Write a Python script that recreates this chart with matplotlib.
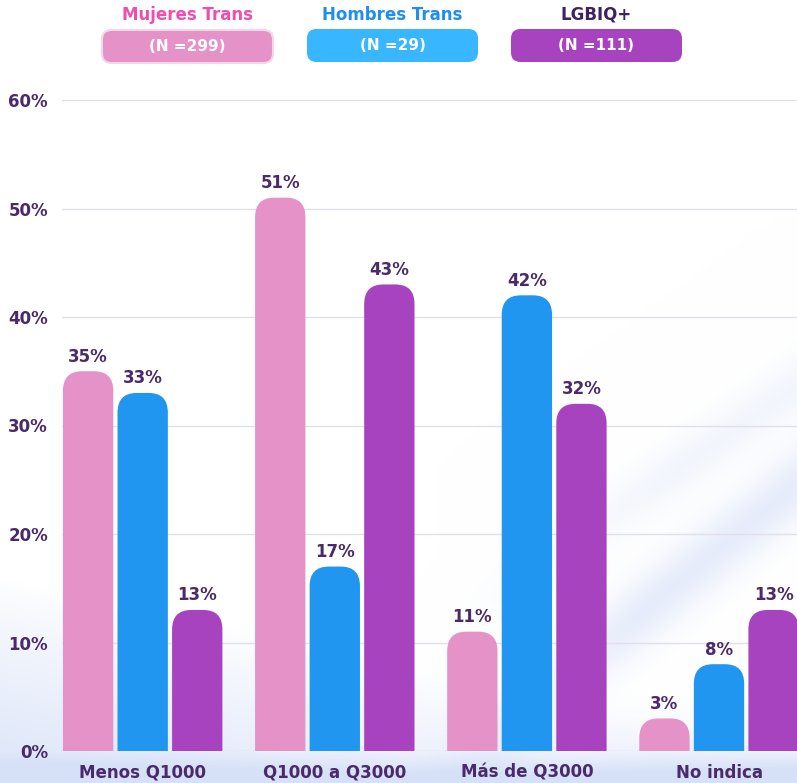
import matplotlib.pyplot as plt
import numpy as np
from matplotlib.patches import FancyBboxPatch

# data
categories = ["Menos Q1000", "Q1000 a Q3000", "Más de Q3000", "No indica"]
mujeres = [35, 51, 11, 3]
hombres = [33, 17, 42, 8]
lgbiq = [13, 43, 32, 13]
series_names = ["Mujeres Trans", "Hombres Trans", "LGBIQ+"]
series_n = ["(N =299)", "(N =29)", "(N =111)"]

bar_colors = ["#E592C8", "#2196F0", "#A843C0"]
title_colors = ["#F04DB0", "#1E8EF0", "#3E2363"]
box_colors = ["#E592C8", "#38B6FF", "#A843C0"]
txt = "#4A2A6A"

plt.rcParams['font.family'] = ['DejaVu Sans']
plt.rcParams['font.weight'] = 'bold'

fig = plt.figure(figsize=(7.97, 7.83), dpi=100)
fig.patch.set_facecolor("white")

# soft background waves (decoration only)
bg = fig.add_axes([0, 0, 1, 1], zorder=-10)
bg.axis("off")
W, H = 400, 393
gx, gy = np.meshgrid(np.linspace(0, 1, W), np.linspace(1, 0, H))
t1 = np.clip((0.26 - 0.22 * gx - gy) / 0.22, 0, 1) ** 0.8
b1 = 0.17 + 0.84 * (gx - 0.75)
t2 = np.exp(-((gy - b1) / 0.05) ** 2) * np.clip((gx - 0.5) / 0.3, 0, 1)
b2 = 0.33 + 0.7 * (gx - 0.75)
t3 = 0.6 * np.exp(-((gy - b2) / 0.04) ** 2) * np.clip((gx - 0.55) / 0.3, 0, 1)
t4 = np.clip((0.04 - gy) / 0.04, 0, 1)
t5 = np.clip((0.12 - gy) / 0.12, 0, 1) * np.clip((gx - 0.6) / 0.4, 0, 1)
tint = np.clip(0.75 * t1 + 0.6 * t2 + 0.5 * t3 + 0.6 * t4 + 0.6 * t5, 0, 1)
col = np.array([0.84, 0.88, 0.97])
img = np.ones((H, W, 3)) * (1 - tint[..., None]) + col * tint[..., None]
bg.imshow(img, extent=[0, 1, 0, 1], aspect="auto")
bg.set_xlim(0, 1)
bg.set_ylim(0, 1)

ax = fig.add_axes([62 / 797, 1 - 751 / 783, 1 - 62 / 797, (751 - 100) / 783])
ax.patch.set_alpha(0)
ax.set_xlim(-0.42, 3.406)
ax.set_ylim(0, 60)

step = 0.284
width = 0.262
rx = 0.1
ry = 1.8
x = np.arange(len(categories))
for i, vals in enumerate([mujeres, hombres, lgbiq]):
    pos = x + (i - 1) * step
    for xp, v in zip(pos, vals):
        p = FancyBboxPatch((xp - width / 2, -ry * 2), width, v + ry * 2,
                           boxstyle=f"round,pad=0,rounding_size={rx}",
                           mutation_aspect=ry / rx,
                           fc=bar_colors[i], ec="none", zorder=3)
        ax.add_patch(p)
        ax.annotate(f"{v}%", (xp, v), xytext=(0, 4), textcoords="offset points",
                    ha="center", va="bottom", fontsize=12, fontweight="bold",
                    color=txt, zorder=4)

ax.set_yticks(np.arange(0, 61, 10))
ax.set_yticklabels([f"{t}%" for t in range(0, 61, 10)])
ax.set_xticks(x)
ax.set_xticklabels(categories)
ax.tick_params(length=0, labelsize=12, labelcolor=txt)
ax.tick_params(axis="y", pad=10)
ax.tick_params(axis="x", pad=9)
for lab in ax.get_xticklabels() + ax.get_yticklabels():
    lab.set_fontweight("bold")
ax.grid(axis="y", color="#E2DFEA", lw=1, zorder=0)
ax.set_axisbelow(True)
for s in ax.spines.values():
    s.set_visible(False)

# legend boxes on top
box_x = [102, 307, 511]
box_y = [30, 29, 29]
for i in range(3):
    x0 = box_x[i] / 797
    y0 = 1 - (box_y[i] + 33) / 783
    b = FancyBboxPatch((x0, y0), 171 / 797, 33 / 783,
                       boxstyle="round,pad=0,rounding_size=0.012",
                       transform=fig.transFigure, fc=box_colors[i],
                       ec="#F3D6E9" if i == 0 else "none", lw=1.5)
    fig.patches.append(b)
    fig.text(x0 + 85.5 / 797, y0 + 16.5 / 783, series_n[i], ha="center",
             va="center", color="white", fontsize=11, fontweight="bold")
    fig.text(x0 + 85.5 / 797, 1 - 15 / 783, series_names[i], ha="center",
             va="center", color=title_colors[i], fontsize=12, fontweight="bold")

fig.savefig("out.png", dpi=100)
